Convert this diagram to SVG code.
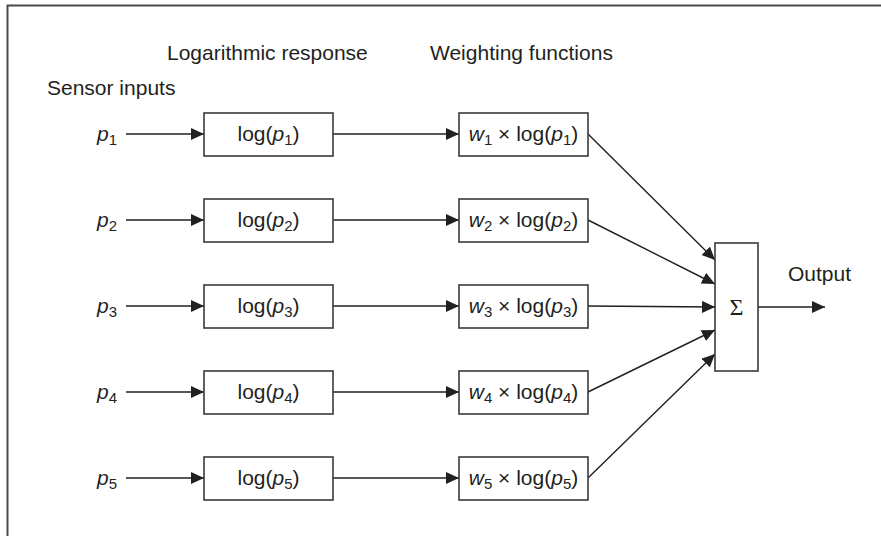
<svg xmlns="http://www.w3.org/2000/svg" width="881" height="536" viewBox="0 0 881 536">
<defs>
<style>
.t{font-family:"Liberation Sans",Arial,sans-serif;font-size:21px;fill:#231f20}
.i{font-style:italic}
.s{font-size:15px}
.box{fill:#fff;stroke:#3a3a3a;stroke-width:1.6}
.ln{stroke:#231f20;stroke-width:1.4;fill:none;marker-end:url(#ah)}
.frame{stroke:#4a4a4a;stroke-width:2;fill:none}
</style>
<marker id="ah" markerUnits="userSpaceOnUse" markerWidth="14" markerHeight="13" refX="13" refY="6" orient="auto">
<path d="M0,0 L13,6 L0,12 z" fill="#231f20"/>
</marker>
</defs>
<rect width="881" height="536" fill="#fff"/>
<path class="frame" d="M7.5,536 V5.5 H881"/>
<g id="headings">
<text class="t" x="167" y="60">Logarithmic response</text>
<text class="t" x="430" y="60">Weighting functions</text>
<text class="t" x="47" y="95">Sensor inputs</text>
</g>
<g id="connectors">
<line class="ln" x1="126" y1="134" x2="204" y2="134"/>
<line class="ln" x1="126" y1="220" x2="204" y2="220"/>
<line class="ln" x1="126" y1="306" x2="204" y2="306"/>
<line class="ln" x1="126" y1="392" x2="204" y2="392"/>
<line class="ln" x1="126" y1="478" x2="204" y2="478"/>
<line class="ln" x1="333" y1="134" x2="459" y2="134"/>
<line class="ln" x1="333" y1="220" x2="459" y2="220"/>
<line class="ln" x1="333" y1="306" x2="459" y2="306"/>
<line class="ln" x1="333" y1="392" x2="459" y2="392"/>
<line class="ln" x1="333" y1="478" x2="459" y2="478"/>
<line class="ln" x1="588" y1="134" x2="715" y2="260"/>
<line class="ln" x1="588" y1="220" x2="715" y2="284"/>
<line class="ln" x1="588" y1="306" x2="715" y2="307"/>
<line class="ln" x1="588" y1="392" x2="715" y2="330"/>
<line class="ln" x1="588" y1="478" x2="715" y2="354"/>
<line class="ln" x1="758" y1="307" x2="825" y2="307"/>
</g>
<g id="inputs">
<text class="t" x="97" y="141"><tspan class="i">p</tspan><tspan class="s" dy="4">1</tspan></text>
<text class="t" x="97" y="227"><tspan class="i">p</tspan><tspan class="s" dy="4">2</tspan></text>
<text class="t" x="97" y="313"><tspan class="i">p</tspan><tspan class="s" dy="4">3</tspan></text>
<text class="t" x="97" y="399"><tspan class="i">p</tspan><tspan class="s" dy="4">4</tspan></text>
<text class="t" x="97" y="485"><tspan class="i">p</tspan><tspan class="s" dy="4">5</tspan></text>
</g>
<g id="log1"><rect class="box" x="204" y="113" width="129" height="43"/><text class="t" x="268.5" y="141" text-anchor="middle">log(<tspan class="i">p</tspan><tspan class="s" dy="4">1</tspan><tspan dy="-4">)</tspan></text></g>
<g id="log2"><rect class="box" x="204" y="199" width="129" height="43"/><text class="t" x="268.5" y="227" text-anchor="middle">log(<tspan class="i">p</tspan><tspan class="s" dy="4">2</tspan><tspan dy="-4">)</tspan></text></g>
<g id="log3"><rect class="box" x="204" y="285" width="129" height="43"/><text class="t" x="268.5" y="313" text-anchor="middle">log(<tspan class="i">p</tspan><tspan class="s" dy="4">3</tspan><tspan dy="-4">)</tspan></text></g>
<g id="log4"><rect class="box" x="204" y="371" width="129" height="43"/><text class="t" x="268.5" y="399" text-anchor="middle">log(<tspan class="i">p</tspan><tspan class="s" dy="4">4</tspan><tspan dy="-4">)</tspan></text></g>
<g id="log5"><rect class="box" x="204" y="457" width="129" height="43"/><text class="t" x="268.5" y="485" text-anchor="middle">log(<tspan class="i">p</tspan><tspan class="s" dy="4">5</tspan><tspan dy="-4">)</tspan></text></g>
<g id="w1"><rect class="box" x="459" y="113" width="129" height="43"/><text class="t" x="523.5" y="141" text-anchor="middle"><tspan class="i">w</tspan><tspan class="s" dy="4">1</tspan><tspan dy="-4"> × log(</tspan><tspan class="i">p</tspan><tspan class="s" dy="4">1</tspan><tspan dy="-4">)</tspan></text></g>
<g id="w2"><rect class="box" x="459" y="199" width="129" height="43"/><text class="t" x="523.5" y="227" text-anchor="middle"><tspan class="i">w</tspan><tspan class="s" dy="4">2</tspan><tspan dy="-4"> × log(</tspan><tspan class="i">p</tspan><tspan class="s" dy="4">2</tspan><tspan dy="-4">)</tspan></text></g>
<g id="w3"><rect class="box" x="459" y="285" width="129" height="43"/><text class="t" x="523.5" y="313" text-anchor="middle"><tspan class="i">w</tspan><tspan class="s" dy="4">3</tspan><tspan dy="-4"> × log(</tspan><tspan class="i">p</tspan><tspan class="s" dy="4">3</tspan><tspan dy="-4">)</tspan></text></g>
<g id="w4"><rect class="box" x="459" y="371" width="129" height="43"/><text class="t" x="523.5" y="399" text-anchor="middle"><tspan class="i">w</tspan><tspan class="s" dy="4">4</tspan><tspan dy="-4"> × log(</tspan><tspan class="i">p</tspan><tspan class="s" dy="4">4</tspan><tspan dy="-4">)</tspan></text></g>
<g id="w5"><rect class="box" x="459" y="457" width="129" height="43"/><text class="t" x="523.5" y="485" text-anchor="middle"><tspan class="i">w</tspan><tspan class="s" dy="4">5</tspan><tspan dy="-4"> × log(</tspan><tspan class="i">p</tspan><tspan class="s" dy="4">5</tspan><tspan dy="-4">)</tspan></text></g>
<g id="sum"><rect class="box" x="715" y="243" width="43" height="128"/><text x="736.5" y="315" text-anchor="middle" style="font-family:'Liberation Serif','Times New Roman',serif;font-size:24px;fill:#231f20">Σ</text></g>
<g id="output"><text class="t" x="788" y="281">Output</text></g>
</svg>
